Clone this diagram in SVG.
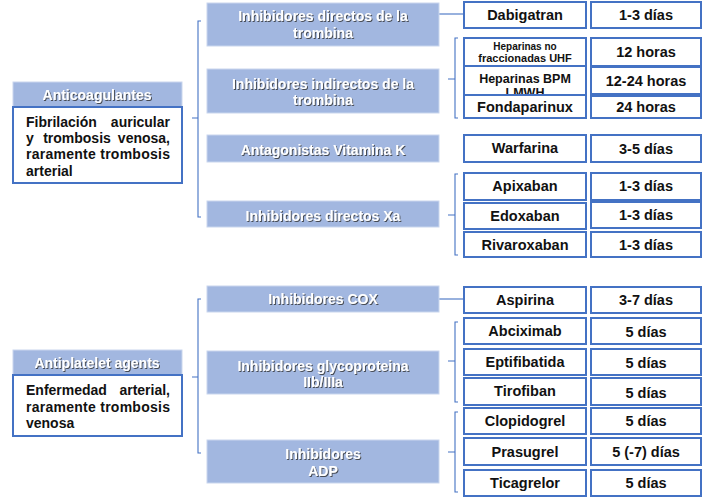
<svg xmlns="http://www.w3.org/2000/svg" width="706" height="498" viewBox="0 0 706 498">
<defs>
<filter id="sh" x="-10%" y="-30%" width="120%" height="160%">
<feDropShadow dx="1" dy="1" stdDeviation="0.6" flood-color="#333" flood-opacity="0.8"/>
</filter>
<clipPath id="bpmclip"><rect x="464" y="66" width="122" height="28"/></clipPath>
<style>
.hdr{fill:#A2B7E0;stroke:#C9D6EE;stroke-width:1}
.box{fill:#fff;stroke:#4472C4;stroke-width:2}
.wt{font-family:"Liberation Sans",Arial,sans-serif;font-weight:bold;font-size:14px;fill:#fff;text-anchor:middle;filter:url(#sh)}
.bt{font-family:"Liberation Sans",Arial,sans-serif;font-weight:bold;font-size:14.5px;fill:#111;text-anchor:middle}
.lt{font-family:"Liberation Sans",Arial,sans-serif;font-weight:bold;font-size:14px;fill:#111}
.con{fill:none;stroke:#4472C4;stroke-width:1.1}
</style>
</defs>
<rect width="706" height="498" fill="#fff"/>

<g id="connectors">
<path class="con" d="M201,21 H198 V217 H201 M192,118 H198"/>
<path class="con" d="M439,14 H464"/>
<path class="con" d="M458,38 H455 V118 H458 M448,79 H455"/>
<path class="con" d="M458,174 H455 V255 H458 M448,215 H455"/>
<path class="con" d="M201,299 H198 V453 H201 M192,377 H198"/>
<path class="con" d="M439,299 H464"/>
<path class="con" d="M458,322 H455 V402 H458 M448,361 H455"/>
<path class="con" d="M458,412 H455 V492 H458 M448,452 H455"/>
</g>

<g id="anticoagulantes">
<rect class="hdr" x="13" y="82" width="169" height="25"/>
<text class="wt" x="97" y="100">Anticoagulantes</text>
<rect class="box" x="13" y="107" width="169" height="76"/>
<text class="lt" x="26" y="127">Fibrilación</text>
<text class="lt" x="170" y="127" text-anchor="end">auricular</text>
<text class="lt" x="26" y="143">y</text>
<text class="lt" x="77" y="143" text-anchor="middle">trombosis</text>
<text class="lt" x="170" y="143" text-anchor="end">venosa,</text>
<text class="lt" x="26" y="159" textLength="144">raramente trombosis</text>
<text class="lt" x="26" y="176">arterial</text>
</g>

<g id="directos-trombina">
<rect class="hdr" x="207" y="3" width="232" height="43"/>
<text class="wt" x="323" y="21">Inhibidores directos de la</text>
<text class="wt" x="323" y="38">trombina</text>
</g>
<g id="indirectos-trombina">
<rect class="hdr" x="207" y="69" width="232" height="44"/>
<text class="wt" x="323" y="89">Inhibidores indirectos de la</text>
<text class="wt" x="323" y="105">trombina</text>
</g>
<g id="antagonistas">
<rect class="hdr" x="207" y="135" width="232" height="27"/>
<text class="wt" x="323" y="155">Antagonistas Vitamina K</text>
</g>
<g id="directos-xa">
<rect class="hdr" x="207" y="201" width="232" height="26"/>
<text class="wt" x="323" y="221">Inhibidores directos Xa</text>
</g>

<g id="dabigatran"><rect class="box" x="464" y="2" width="122" height="26"/><text class="bt" x="525" y="20">Dabigatran</text></g>
<g id="dabigatran-t"><rect class="box" x="591" y="2" width="110" height="26"/><text class="bt" x="646" y="20">1-3 días</text></g>

<g id="heparinas-uhf"><rect class="box" x="464" y="38" width="122" height="28"/>
<text class="bt" x="525" y="50" style="font-size:10px">Heparinas no</text>
<text class="bt" x="525" y="62" style="font-size:11px">fraccionadas UHF</text></g>
<g id="heparinas-uhf-t"><rect class="box" x="591" y="38" width="110" height="28"/><text class="bt" x="646" y="57">12 horas</text></g>

<g id="heparinas-bpm"><rect class="box" x="464" y="66" width="122" height="29"/>
<text class="bt" x="525" y="83" style="font-size:12.5px">Heparinas BPM</text>
<text class="bt" x="525" y="97" style="font-size:12.5px" clip-path="url(#bpmclip)">LMWH</text></g>
<g id="heparinas-bpm-t"><rect class="box" x="591" y="67" width="110" height="27"/><text class="bt" x="646" y="86">12-24 horas</text></g>

<g id="fondaparinux"><rect class="box" x="464" y="95" width="122" height="23"/><text class="bt" x="525" y="112">Fondaparinux</text></g>
<g id="fondaparinux-t"><rect class="box" x="591" y="96" width="110" height="22"/><text class="bt" x="646" y="112">24 horas</text></g>

<g id="warfarina"><rect class="box" x="464" y="135" width="122" height="27"/><text class="bt" x="525" y="153">Warfarina</text></g>
<g id="warfarina-t"><rect class="box" x="591" y="135" width="110" height="27"/><text class="bt" x="646" y="154">3-5 días</text></g>

<g id="apixaban"><rect class="box" x="464" y="173" width="122" height="27"/><text class="bt" x="525" y="191">Apixaban</text></g>
<g id="apixaban-t"><rect class="box" x="591" y="173" width="110" height="27"/><text class="bt" x="646" y="191">1-3 días</text></g>
<g id="edoxaban"><rect class="box" x="464" y="203" width="122" height="26"/><text class="bt" x="525" y="221">Edoxaban</text></g>
<g id="edoxaban-t"><rect class="box" x="591" y="202" width="110" height="26"/><text class="bt" x="646" y="220">1-3 días</text></g>
<g id="rivaroxaban"><rect class="box" x="464" y="232" width="122" height="25"/><text class="bt" x="525" y="250">Rivaroxaban</text></g>
<g id="rivaroxaban-t"><rect class="box" x="591" y="232" width="110" height="25"/><text class="bt" x="646" y="250">1-3 días</text></g>

<g id="antiplatelet">
<rect class="hdr" x="13" y="350" width="169" height="25"/>
<text class="wt" x="97" y="368">Antiplatelet agents</text>
<rect class="box" x="13" y="375" width="169" height="61"/>
<text class="lt" x="26" y="395">Enfermedad</text>
<text class="lt" x="170" y="395" text-anchor="end">arterial,</text>
<text class="lt" x="26" y="412" textLength="144">raramente trombosis</text>
<text class="lt" x="26" y="428">venosa</text>
</g>

<g id="cox">
<rect class="hdr" x="207" y="286" width="232" height="26"/>
<text class="wt" x="323" y="304">Inhibidores COX</text>
</g>
<g id="glycoproteina">
<rect class="hdr" x="207" y="351" width="232" height="43"/>
<text class="wt" x="323" y="371">Inhibidores glycoproteina</text>
<text class="wt" x="323" y="387">IIb/IIIa</text>
</g>
<g id="adp">
<rect class="hdr" x="207" y="440" width="232" height="43"/>
<text class="wt" x="323" y="459">Inhibidores</text>
<text class="wt" x="323" y="476">ADP</text>
</g>

<g id="aspirina"><rect class="box" x="464" y="287" width="122" height="26"/><text class="bt" x="525" y="305">Aspirina</text></g>
<g id="aspirina-t"><rect class="box" x="591" y="287" width="110" height="26"/><text class="bt" x="646" y="305">3-7 días</text></g>
<g id="abciximab"><rect class="box" x="464" y="318" width="122" height="26"/><text class="bt" x="525" y="336">Abciximab</text></g>
<g id="abciximab-t"><rect class="box" x="591" y="318" width="110" height="26"/><text class="bt" x="646" y="337">5 días</text></g>
<g id="eptifibatida"><rect class="box" x="464" y="349" width="122" height="26"/><text class="bt" x="525" y="367">Eptifibatida</text></g>
<g id="eptifibatida-t"><rect class="box" x="591" y="349" width="110" height="26"/><text class="bt" x="646" y="368">5 días</text></g>
<g id="tirofiban"><rect class="box" x="464" y="378" width="122" height="27"/><text class="bt" x="525" y="396">Tirofiban</text></g>
<g id="tirofiban-t"><rect class="box" x="591" y="378" width="110" height="27"/><text class="bt" x="646" y="398">5 días</text></g>
<g id="clopidogrel"><rect class="box" x="464" y="408" width="122" height="26"/><text class="bt" x="525" y="426">Clopidogrel</text></g>
<g id="clopidogrel-t"><rect class="box" x="591" y="408" width="110" height="26"/><text class="bt" x="646" y="426">5 días</text></g>
<g id="prasugrel"><rect class="box" x="464" y="438" width="122" height="27"/><text class="bt" x="525" y="457">Prasugrel</text></g>
<g id="prasugrel-t"><rect class="box" x="591" y="438" width="110" height="27"/><text class="bt" x="646" y="457">5 (-7) días</text></g>
<g id="ticagrelor"><rect class="box" x="464" y="470" width="122" height="26"/><text class="bt" x="525" y="488">Ticagrelor</text></g>
<g id="ticagrelor-t"><rect class="box" x="591" y="470" width="110" height="26"/><text class="bt" x="646" y="488">5 días</text></g>
</svg>
